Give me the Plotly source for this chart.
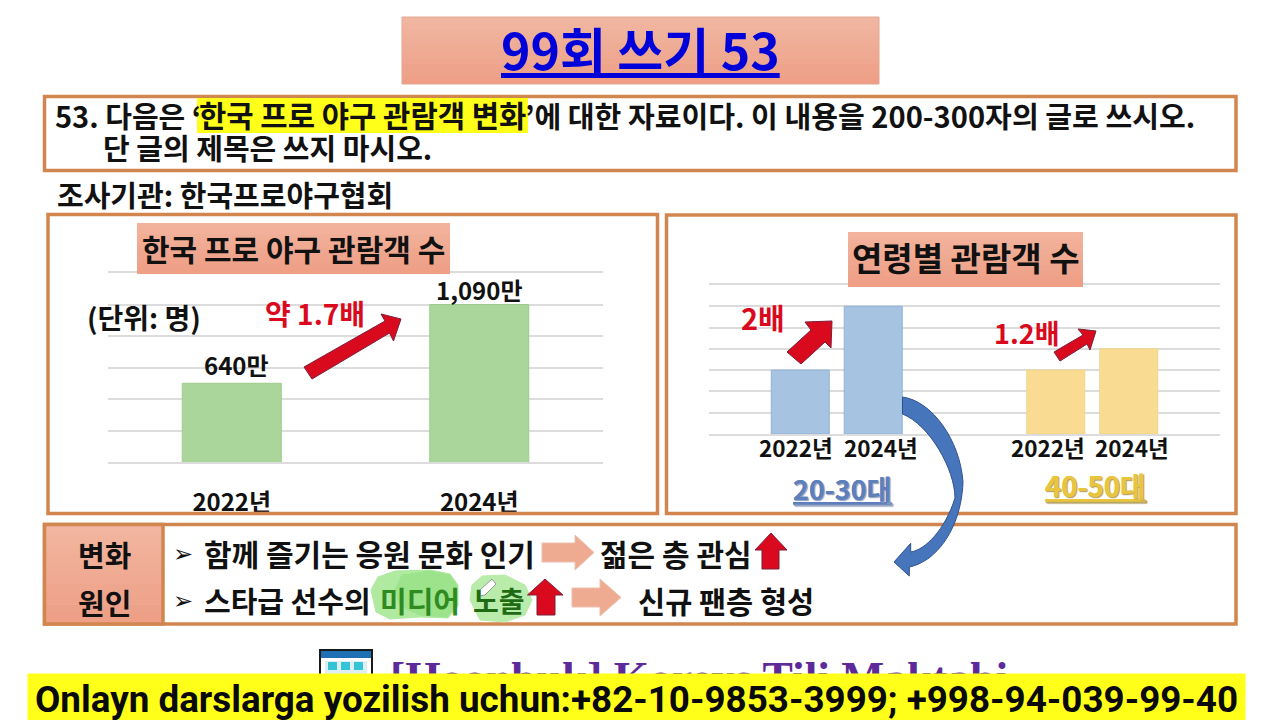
import plotly.graph_objects as go

# ---- data ----
total_years = ["2022년", "2024년"]
total_values = [640, 1090]
total_labels = ["640만", "1,090만"]
age_groups = ["20-30대", "40-50대"]
age_2022 = [3, 3]
age_2024 = [6, 4]
age_colors = ["#A6C3E1", "#F9DB92"]

W, H = 1280, 720
KR = "Noto Sans CJK KR"
ORANGE = "#D2864F"
RED = "#DA0A1E"

def px(x): return x / W
def py(y): return 1 - y / H

shapes, annots = [], []

def rect(x0, y0, x1, y1, fill="rgba(0,0,0,0)", line=None, lw=0, layer="above"):
    shapes.append(dict(type="rect", xref="paper", yref="paper", x0=px(x0), x1=px(x1), y0=py(y0), y1=py(y1),
                       fillcolor=fill, line=dict(color=line or "rgba(0,0,0,0)", width=lw), layer=layer))

def gradbox(x0, y0, x1, y1, top, bot, n=10, layer="above"):
    a = [int(top[i:i+2], 16) for i in (1, 3, 5)]
    b = [int(bot[i:i+2], 16) for i in (1, 3, 5)]
    for i in range(n):
        t = i / (n - 1)
        c = "rgb(%d,%d,%d)" % tuple(round(a[k] + (b[k] - a[k]) * t) for k in range(3))
        ya = y0 + (y1 - y0) * i / n
        yb = y0 + (y1 - y0) * (i + 1) / n + (0.6 if i < n - 1 else 0)
        rect(x0, ya, x1, yb, fill=c, layer=layer)

def poly(pts, fill, line=None, lw=1):
    d = "M" + " L".join(f"{px(x):.5f},{py(y):.5f}" for x, y in pts) + " Z"
    shapes.append(dict(type="path", xref="paper", yref="paper", path=d, fillcolor=fill,
                       line=dict(color=line or fill, width=lw), layer="above"))

def pt(p): return f"{px(p[0]):.5f},{py(p[1]):.5f}"

def txt(x, y, s, size=24, color="#111111", anchor="left", family=KR, bold=True, **kw):
    annots.append(dict(xref="paper", yref="paper", x=px(x), y=py(y), text=f"<b>{s}</b>" if bold else s,
                       showarrow=False, xanchor=anchor, yanchor="middle",
                       font=dict(family=family, size=size, color=color, **kw), borderpad=0, borderwidth=0))

# header
gradbox(402, 17, 879, 84, "#F0B6A1", "#EE9F86")
rect(402, 17, 879, 84, line="#E4A68F", lw=1)
txt(640, 48, "<u>99회 쓰기 53</u>", 50, "#0000D8", "center")

# question box
rect(44.5, 96.5, 1236, 170.5, line=ORANGE, lw=3.5)
rect(197, 98, 528, 133, fill="#FFFF19")
txt(55, 115, "53. 다음은 ‘", 29)
txt(199, 115, "한국 프로 야구 관람객 변화", 29.7)
txt(525, 115, "’에 대한 자료이다. 이 내용을 200-300자의 글로 쓰시오.", 29.1)
txt(103, 147, "단 글의 제목은 쓰지 마시오.", 29)
txt(57, 194, "조사기관: 한국프로야구협회", 29)

# chart frames
rect(48, 214.5, 657.5, 513.5, line=ORANGE, lw=3.5)
rect(666.5, 215, 1236, 513.5, line=ORANGE, lw=3.5)

# left chart decorations
gradbox(137, 223, 450, 274, "#F2B29C", "#EE9F86")
txt(293.5, 247.5, "한국 프로 야구 관람객 수", 30, "#111111", "center")
txt(87, 317, "(단위: 명)", 28)
txt(315, 313, "약 1.7배", 28, RED, "center")
poly([(304, 367), (385, 321), (381, 314), (401, 319), (393.5, 341), (389.5, 333), (312, 379)], RED, "#7A1F3A", 1)

# right chart decorations
gradbox(848, 232, 1083, 287, "#F2B29C", "#EE9F86")
txt(965.5, 257.5, "연령별 관람객 수", 33, "#111111", "center")
txt(763, 317, "2배", 29, RED, "center")
txt(1026, 332, "1.2배", 27, RED, "center")
poly([(787, 352), (811, 330), (805, 322), (832, 321), (831, 348), (825, 342), (801, 364)], RED, "#7A1F3A", 1)
poly([(1054, 352), (1083, 335), (1078, 329), (1096, 331), (1090, 350), (1087, 344), (1060, 361)], RED, "#7A1F3A", 1)

txt(842, 488, "<u>20-30대</u>", 27, "#5D7FBB", "center", shadow="1px 1px 1px #9AA7C4")
txt(1095, 485, "<u>40-50대</u>", 27.5, "#E9C53E", "center", shadow="1px 1px 1px #B9A66A")

# bottom box
rect(44.5, 524.5, 1236, 624, line=ORANGE, lw=3.5)
gradbox(44, 525, 163, 624, "#F2B5A0", "#EE9F86")
rect(44.5, 524.5, 163, 624, line=ORANGE, lw=3.5)
txt(104, 554, "변화", 29, "#111111", "center")
txt(104, 601.5, "원인", 29, "#111111", "center")

poly([(371, 590), (378, 577), (395, 571), (430, 570), (450, 574), (458, 585), (458, 606), (448, 618), (420, 617), (390, 619), (376, 612)], "#AFEAA0")
poly([(395, 590), (402, 575), (430, 571), (450, 575), (457, 586), (457, 605), (447, 617), (420, 615), (400, 606)], "#9CE38B")
poly([(470, 600), (472, 585), (482, 576), (505, 575), (525, 585), (532, 600), (525, 615), (505, 622), (480, 620)], "#B9ECAB")
poly([(480, 590), (492, 579), (496, 584), (485, 595), (480, 596)], "#FFFFFF", "#9A9A9A", 1)

txt(173, 554, "➢", 24, "#111111", family="DejaVu Sans", bold=False)
txt(204, 553, "함께 즐기는 응원 문화 인기", 30)
txt(600, 553, "젊은 층 관심", 30)
txt(173, 601, "➢", 24, "#111111", family="DejaVu Sans", bold=False)
txt(204, 600, "스타급 선수의", 29)
txt(380, 600, "미디어", 29, "#2F8A1F")
txt(473, 600, "노출", 28, "#1F6B14")
txt(638, 600, "신규 팬층 형성", 29.5)

poly([(542, 543), (575, 543), (575, 535), (594, 552.5), (575, 570), (575, 562), (542, 562)], "#EFAA92", "#EBC0AE", 1)
poly([(572, 588), (600, 588), (600, 579), (621, 597.5), (600, 616), (600, 607), (572, 607)], "#EFAA92", "#EBC0AE", 1)
poly([(771, 533), (787, 550), (779, 550), (779, 569), (762, 569), (762, 550), (755, 550)], RED, "#7A1F3A", 1)
poly([(545, 579), (563, 595), (555, 595), (555, 615), (537, 615), (537, 595), (527.5, 595)], RED, "#7A1F3A", 1)

# blue curved arrow
segs = [
    "M" + pt((902.5, 397)),
    "C" + " ".join(pt(p) for p in [(932, 401), (960, 440), (963, 482)]),
    "C" + " ".join(pt(p) for p in [(962, 510), (952, 540), (929, 558)]),
    "C" + " ".join(pt(p) for p in [(922, 563), (915, 566), (909.3, 567)]),
    "L" + pt((909.3, 576)), "L" + pt((894, 562)), "L" + pt((910.7, 543.3)), "L" + pt((910.7, 552)),
    "C" + " ".join(pt(p) for p in [(925, 550), (945, 530), (955, 498)]),
    "C" + " ".join(pt(p) for p in [(955, 470), (930, 425), (902.5, 414)]),
]
shapes.append(dict(type="path", xref="paper", yref="paper", path=" ".join(segs) + " Z", fillcolor="#4675BC",
                   line=dict(color="#2F528F", width=1), layer="above"))

# watermark (cut by banner)
rect(320, 650, 372, 690, fill="#FFFFFF", line="#1A1A1A", lw=2)
rect(321, 651, 371, 658, fill="#1F6FB5")
rect(325, 661, 367, 690, fill="#DDEFF2")
for xx in (328, 341, 354):
    rect(xx, 662, xx + 9, 670, fill="#35C3D6")
txt(390, 678, "[Hoonbuk] Koreys Tili Maktabi", 45.5, "#5E2A9A", family="Liberation Serif")

# yellow banner: annotation background hides the lower half of the watermark
annots.append(dict(xref="paper", yref="paper", x=px(636.5), y=py(697), width=1217, height=47,
                   text=" ", showarrow=False, xanchor="center", yanchor="middle", bgcolor="#FFFF19",
                   font=dict(size=10), borderpad=0))
txt(636.5, 699, "Onlayn darslarga yozilish uchun:+82-10-9853-3999; +998-94-039-99-40", 36.8, "#0A0A0A", "center", family="Roboto")

fig = go.Figure()
fig.add_trace(go.Bar(x=total_years, y=total_values, xaxis="x", yaxis="y", width=0.4, showlegend=False,
                     marker=dict(color="#ABD69B", line=dict(color="#9CCB8B", width=1))))
fig.add_trace(go.Bar(x=age_groups, y=age_2022, name="2022년", xaxis="x2", yaxis="y2", showlegend=False,
                     marker=dict(color=age_colors, line=dict(color=["#8FB3D9", "#F3D587"], width=1))))
fig.add_trace(go.Bar(x=age_groups, y=age_2024, name="2024년", xaxis="x2", yaxis="y2", showlegend=False,
                     marker=dict(color=age_colors, line=dict(color=["#8FB3D9", "#F3D587"], width=1))))

# value labels anchored to the data
for yr, v, lab, sh, ysh in zip(total_years, total_values, total_labels, (5, 0), (19, 15)):
    annots.append(dict(xref="x", yref="y", x=yr, y=v, text=f"<b>{lab}</b>", showarrow=False, xshift=sh, yshift=ysh,
                       font=dict(family=KR, size=24, color="#111111")))
for grp, sh in zip(age_groups, ((-41, 44), (-44, 40))):
    for year, s in zip(total_years, sh):
        annots.append(dict(xref="x2", yref="y2", x=grp, y=0, text=f"<b>{year}</b>", showarrow=False, xshift=s, yshift=-13,
                           font=dict(family=KR, size=22.5, color="#111111")))

GRID = "#DCDCDC"
fig.update_layout(
    width=W, height=H, autosize=False, margin=dict(l=0, r=0, t=0, b=0),
    paper_bgcolor="#FFFFFF", plot_bgcolor="#FFFFFF", showlegend=False,
    barmode="group", bargap=0.429, bargroupgap=0.205,
    xaxis=dict(domain=[px(108), px(603)], anchor="y", type="category", showgrid=False, ticks="", zeroline=False,
               tickfont=dict(family=KR, size=24, color="#111111"), ticklabelstandoff=18,
               tickprefix="<b>", ticksuffix="</b>", showline=True, mirror=True, linecolor=GRID, linewidth=1.5),
    yaxis=dict(domain=[py(462), py(273)], anchor="x", range=[190, 1270], tick0=190, dtick=180,
               showticklabels=False, ticks="", gridcolor=GRID, gridwidth=1.5, zeroline=False),
    xaxis2=dict(domain=[px(709), px(1220)], anchor="y2", type="category", showgrid=False, showticklabels=False,
                ticks="", zeroline=False, showline=True, mirror=True, linecolor=GRID, linewidth=1.5),
    yaxis2=dict(domain=[py(434), py(285)], anchor="x2", range=[0, 7], tick0=0, dtick=1,
                showticklabels=False, ticks="", gridcolor=GRID, gridwidth=1.5, zeroline=False),
    shapes=shapes, annotations=annots,
)
fig.write_html("out.html", config=dict(displayModeBar=False),
               post_script="document.body.style.margin='0';document.body.style.overflow='hidden';")
